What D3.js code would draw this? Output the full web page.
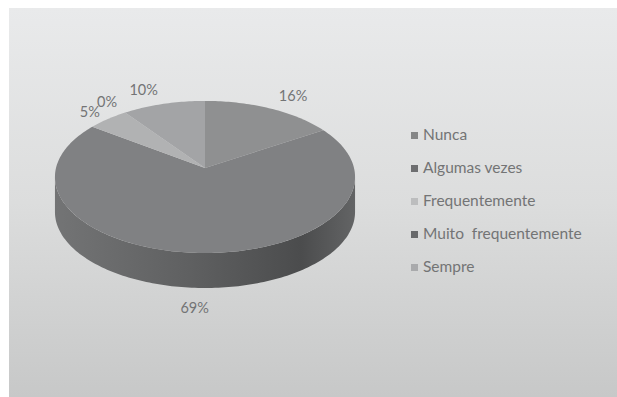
<!DOCTYPE html>
<html>
<head>
<meta charset="utf-8">
<script src="https://cdn.jsdelivr.net/npm/d3@7"></script>
<style>
  html, body { margin: 0; padding: 0; background: #fff; }
  svg { display: block; }
  text { font-family: Lato, "Open Sans", sans-serif; }
</style>
</head>
<body>
<svg id="chart" width="617" height="397"></svg>
<script>
// Survey answers, in percent, clockwise from twelve o'clock
const categories = ["Nunca", "Algumas vezes", "Frequentemente", "Muito  frequentemente", "Sempre"];
const percents = [16, 69, 5, 0, 10];
const sliceColors = ["#8f9091", "#808183", "#b1b2b3", "#6a6b6c", "#a3a4a6"];
const legendColors = ["#858687", "#6d6e70", "#bcbdbe", "#68696b", "#a9aaac"];

const width = 617, height = 397;
const svg = d3.select("#chart");
const defs = svg.append("defs");

const bg = defs.append("linearGradient").attr("id", "bg")
  .attr("x1", 0).attr("y1", 0).attr("x2", 0).attr("y2", 1);
bg.append("stop").attr("offset", 0).attr("stop-color", "#e9eaeb");
bg.append("stop").attr("offset", 0.5).attr("stop-color", "#dcdddd");
bg.append("stop").attr("offset", 1).attr("stop-color", "#c7c8c8");

const wall = defs.append("linearGradient").attr("id", "wall")
  .attr("gradientUnits", "userSpaceOnUse")
  .attr("x1", 55).attr("y1", 0).attr("x2", 355).attr("y2", 0);
wall.append("stop").attr("offset", 0).attr("stop-color", "#737475");
wall.append("stop").attr("offset", 0.45).attr("stop-color", "#5f6061");
wall.append("stop").attr("offset", 0.82).attr("stop-color", "#4b4c4d");
wall.append("stop").attr("offset", 1).attr("stop-color", "#636465");

svg.append("rect").attr("x", 9).attr("y", 8)
  .attr("width", width - 9).attr("height", height - 8)
  .attr("fill", "url(#bg)");

// Tilted disc: a unit circle seen in perspective, nearer edge larger
const disc = { x: 205, y: 168, radiusX: 149, radiusY: 75, tilt: 0.118, depth: 35 };
const project = (angle, drop = 0) => {
  const u = Math.sin(angle), v = -Math.cos(angle);
  const w = 1 - disc.tilt * v;
  return [disc.x + disc.radiusX * u / w, disc.y + disc.radiusY * v / w + drop];
};
const line = d3.line();
const arcPoints = (a0, a1, drop = 0) => {
  const steps = Math.max(2, Math.ceil(Math.abs(a1 - a0) / 0.02));
  return d3.range(steps + 1).map(i => project(a0 + (a1 - a0) * i / steps, drop));
};

const slices = d3.pie().sort(null)(percents);

// Outer wall, visible between the two horizontal extremes of the disc
const wallStart = Math.acos(-disc.tilt), wallEnd = 2 * Math.PI - wallStart;
slices.forEach(s => {
  const a0 = Math.max(s.startAngle, wallStart), a1 = Math.min(s.endAngle, wallEnd);
  if (a1 <= a0) return;
  const pts = arcPoints(a0, a1).concat(arcPoints(a1, a0, disc.depth));
  svg.append("path").attr("d", line(pts) + "Z").attr("fill", "url(#wall)");
});

// Top face
svg.selectAll("path.slice").data(slices).join("path")
  .attr("class", "slice")
  .attr("d", s => s.endAngle > s.startAngle
    ? line([[disc.x, disc.y], ...arcPoints(s.startAngle, s.endAngle)]) + "Z" : null)
  .attr("fill", (s, i) => sliceColors[i]);

// Percent labels, placed from each slice's mid-angle
const labelGaps = [[23, -11], [-5, 56], [-18, -6], [-18, -9], [-20, -13]];
svg.selectAll("text.pct").data(slices).join("text")
  .attr("class", "pct")
  .attr("x", (s, i) => project((s.startAngle + s.endAngle) / 2)[0] + labelGaps[i][0])
  .attr("y", (s, i) => project((s.startAngle + s.endAngle) / 2)[1] + labelGaps[i][1])
  .attr("text-anchor", "middle")
  .attr("dominant-baseline", "middle")
  .attr("font-size", 14.5)
  .attr("fill", "#737475")
  .text(s => s.data + "%");

// Legend
const legendY = d3.scalePoint().domain(categories).range([135.5, 267.5]);
const legend = svg.selectAll("g.key").data(categories).join("g")
  .attr("class", "key")
  .attr("transform", d => `translate(411,${legendY(d)})`);
legend.append("rect")
  .attr("y", -3.5).attr("width", 7).attr("height", 7)
  .attr("fill", (d, i) => legendColors[i]);
legend.append("text")
  .attr("x", 12).attr("y", 1).attr("dominant-baseline", "middle")
  .attr("font-size", 15.5)
  .attr("fill", "#737475")
  .style("white-space", "pre")
  .text(d => d);
</script>
</body>
</html>
